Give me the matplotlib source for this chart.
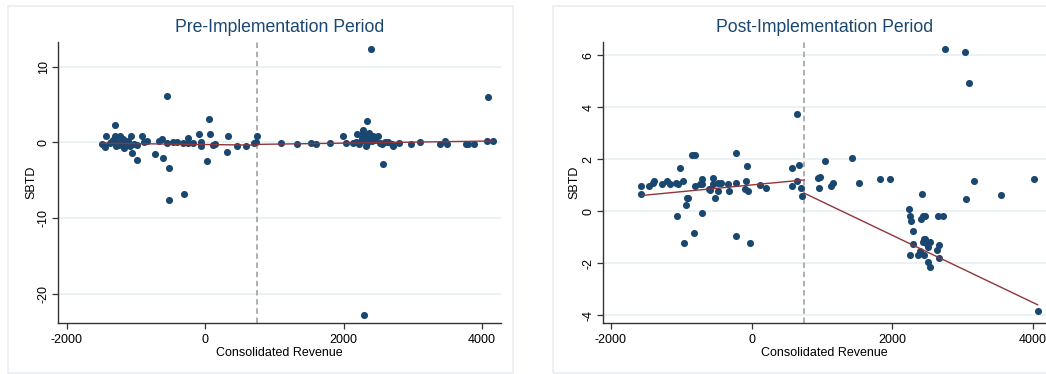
import numpy as np
import matplotlib.pyplot as plt
from matplotlib.patches import Rectangle

plt.rcParams['font.family'] = ['Liberation Sans', 'DejaVu Sans']
plt.rcParams['axes.unicode_minus'] = False

cutoff = 750

# Pre-implementation period (x = consolidated revenue, y = SBTD)
pre_x = [-1492, -1434, -1444, -1357, -1300, -1300, -1290, -1228, -1203, -1165,
         -1107, -1068, -1058, -986, -986, -914, -842, -722, -660, -625,
         -611, -553, -553, -520, -520, -458, -409, -299, -313, -250,
         -241, -169, -87, -58, -58, 33, 58, 72, 120,
         -1380, -1250, -1150, -1020, -880, -1330, -1180, -1090, -1460, -1270,
         144, 337, 322, 457, 587, 708, 755, 732, 1097, 1324, 1531, 1603, 1805,
         1988, 2031, 2142, 2200, 2287, 2311, 2263, 2344, 2397, 2300, 2383,
         2431, 2503, 2335, 2325, 2407, 2527, 2575, 2600, 2696, 2710, 2806,
         2975, 3105, 3394, 3466, 3500, 3769, 3800, 3885, 4077, 4082, 4155,
         2250, 2280, 2350, 2220, 2460, 2555, 2640, 2180, 2370, 2300]
pre_y = [-0.2, 0.9, -0.6, 0.05, 2.3, 0.9, -0.5, 0.8, 0.15, -0.75,
         0.15, 0.8, -1.4, -2.3, -0.3, 0.9, 0.15, -1.5, 0.2, 0.45,
         -2.1, 6.1, -0.1, -3.4, -7.6, 0.05, 0.05, -6.75, -0.1, 0.65,
         -0.1, -0.1, 1.1, 0.05, -0.5, -2.4, 3.1, 1.15, -0.3,
         -0.1, -0.3, -0.1, -0.2, 0.1, 0.3, 0.4, -0.4, -0.3, 0.1,
         -0.2, 0.9, -1.3, -0.4, -0.4, -0.1, 0.8, 0.05, -0.1, -0.2, -0.1, -0.25, -0.1,
         0.8, -0.1, -0.1, 1.1, 1.6, 1.0, 0.6, 2.85, 12.3, -22.7, 0.8,
         0.9, 0.8, -0.1, -0.45, 0.15, -0.1, -2.9, 0.0, -0.2, -0.5, -0.1,
         -0.2, 0.0, -0.2, 0.15, -0.2, -0.2, -0.2, -0.2, 0.15, 6.0, 0.15,
         0.2, 1.3, 0.4, -0.2, 0.3, -0.15, 0.05, 0.05, 1.2, 0.9]

pre_fit_left_x = [-1492, 750]
pre_fit_left_y = [-0.1, -0.35]
pre_fit_right_x = [750, 4163]
pre_fit_right_y = [-0.25, 0.2]

# Post-implementation period
post_x = [-1566, -1566, -1458, -1400, -1386, -1281, -1210, -1163, -1078, -1045,
          -1011, -974, -1059, -959, -935, -925, -910, -845, -807, -821,
          -807, -736, -712, -712, -712, -603, -594, -546, -555, -522,
          -475, -475, -441, -333, -323, -228, -223, -223, -85, -71,
          -95, -57, -19, 118, 199, 569, 569, 645, 669, 649, 697, 721,
          948, 972, 954, 1048, 1129, 1153, 1432, 1532, 1826, 1973,
          2243, 2258, 2268, 2300, 2292, 2253, 2363, 2420, 2410, 2443,
          2472, 2457, 2434, 2481, 2457, 2538, 2514, 2514, 2538, 2657,
          2727, 2671, 2633, 2666, 2396, 2467, 2756, 3032, 3098, 3055,
          3166, 3545, 4023, 4071]
post_y = [0.95, 0.65, 0.95, 1.08, 1.14, 1.04, 1.14, 1.04, 1.08, 1.04,
          1.64, 1.17, -0.17, -1.23, 0.24, 0.5, 0.5, 2.14, 2.14, -0.85,
          0.95, 1.04, 1.23, 1.04, -0.08, 0.85, 0.82, 1.29, 1.04, 0.5,
          1.1, 0.76, 1.08, 1.04, 0.76, 2.25, 1.08, -0.94, 1.17, 1.74,
          0.85, 0.79, -1.23, 1.01, 0.88, 1.65, 0.97, 3.73, 1.78, 1.14, 0.88, 0.6,
          1.27, 1.33, 0.88, 1.92, 0.97, 1.08, 2.06, 1.08, 1.23, 1.25,
          0.08, -0.2, -0.37, -0.76, -1.26, -1.68, -1.68, 0.65, -0.3, -0.2,
          -0.17, -1.08, -1.17, -1.23, -1.68, -1.17, -1.36, -1.94, -2.15, -0.17,
          -0.17, -1.32, -1.5, -1.8, -1.53, -1.08, 6.24, 6.11, 4.93, 0.47,
          1.14, 0.63, 1.23, -3.83]

post_fit_left_x = [-1566, 750]
post_fit_left_y = [0.6, 1.2]
post_fit_right_x = [750, 4071]
post_fit_right_y = [0.69, -3.6]

navy = '#1a476f'
maroon = '#90353b'

W, H = 1046, 374
fig = plt.figure(figsize=(W / 100, H / 100), dpi=100)

# light outer frames around each graph
for x0, w in [(8, 505), (553, 505)]:
    fig.patches.append(Rectangle((x0 / W, 1 / H), w / W, 367 / H, transform=fig.transFigure,
                                 fill=False, edgecolor='#eaeff3', linewidth=1.3))


def draw_panel(ax, x, y, fits, title, xlim, ylim, yticks):
    ax.scatter(x, y, s=26, color=navy, linewidths=0, zorder=3)
    for fx, fy in fits:
        ax.plot(fx, fy, color=maroon, linewidth=1.0, zorder=4)
    ax.axvline(cutoff, color='#9a9a9a', linewidth=1.1, dashes=(3.6, 2.4), zorder=2)
    ax.set_xlim(*xlim)
    ax.set_ylim(*ylim)
    ax.set_xticks([-2000, 0, 2000, 4000])
    ax.set_yticks(yticks)
    ax.yaxis.grid(True, color='#e8f0f2', linewidth=1.2)
    ax.set_axisbelow(True)
    for s in ['top', 'right']:
        ax.spines[s].set_visible(False)
    for s in ['left', 'bottom']:
        ax.spines[s].set_color('#333333')
        ax.spines[s].set_linewidth(1.0)
    ax.tick_params(length=4, width=0.9, color='#333333', labelsize=9, pad=2)
    ax.tick_params(axis='x', pad=4)
    ax.tick_params(axis='y', labelrotation=90)
    for lab in ax.get_yticklabels():
        lab.set_va('center')
    ax.set_xlabel('Consolidated Revenue', fontsize=9)
    ax.xaxis.set_label_coords(0.5, -0.085)
    ax.set_ylabel('SBTD', fontsize=9)
    ax.text(0.5, 1 + 14 / 281, title, transform=ax.transAxes, ha='center', va='center',
            fontsize=12.7, color=navy)


ax1 = fig.add_axes([58 / W, 51 / H, 443 / W, 281 / H])
draw_panel(ax1, pre_x, pre_y,
           [(pre_fit_left_x, pre_fit_left_y), (pre_fit_right_x, pre_fit_right_y)],
           'Pre-Implementation Period', (-2125, 4274), (-23.8, 13.25), [-20, -10, 0, 10])
ax1.yaxis.set_label_coords(-0.046, 0.5)

ax2 = fig.add_axes([602.7 / W, 51 / H, 443.3 / W, 281 / H])
draw_panel(ax2, post_x, post_y,
           [(post_fit_left_x, post_fit_left_y), (post_fit_right_x, post_fit_right_y)],
           'Post-Implementation Period', (-2118, 4190), (-4.3, 6.5), [-4, -2, 0, 2, 4, 6])
ax2.yaxis.set_label_coords(-0.051, 0.5)

fig.savefig('out.png', dpi=100)
